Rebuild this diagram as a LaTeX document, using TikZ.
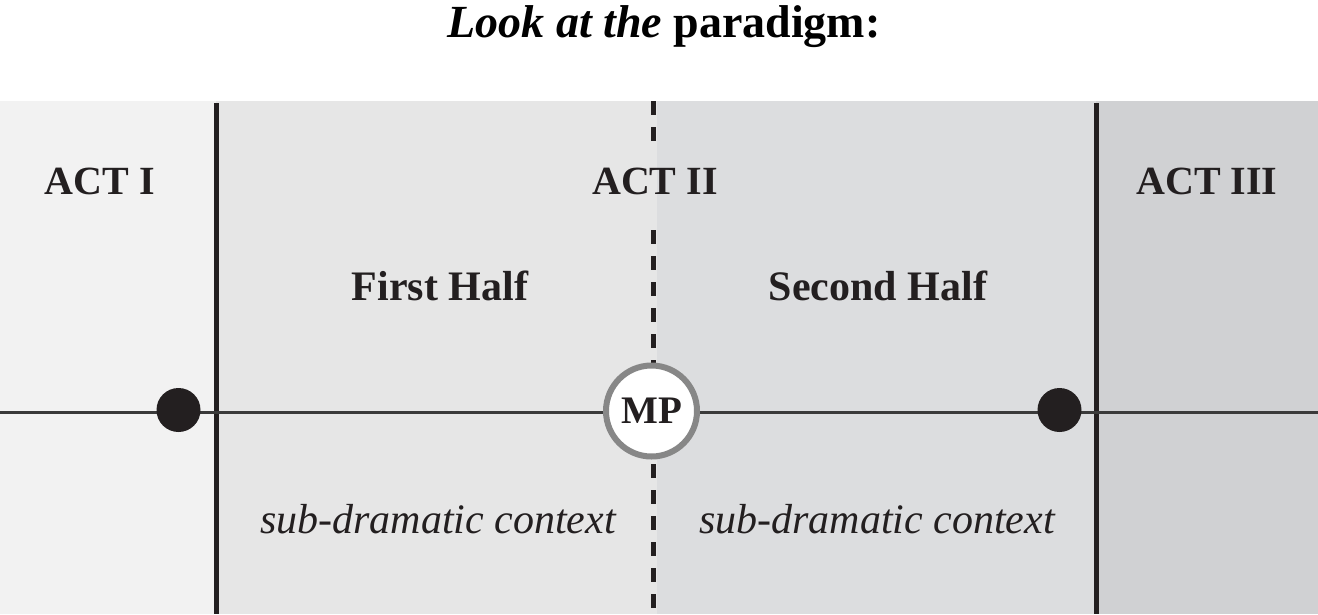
\documentclass[tikz,border=0pt]{standalone}
\usepackage{fontspec}
\setmainfont{Liberation Serif}
\usepackage{tikz}
\usetikzlibrary{positioning, calc}
\definecolor{actOne}{HTML}{F2F2F2}
\definecolor{halfOne}{HTML}{E6E6E6}
\definecolor{halfTwo}{HTML}{DCDDDF}
\definecolor{actThree}{HTML}{D0D1D3}
\definecolor{inkDark}{HTML}{231F20}
\definecolor{lineGray}{HTML}{3A3A3A}
\definecolor{ringGray}{HTML}{878787}

\begin{document}
\begin{tikzpicture}[
    x=1pt, y=-1pt,
    actlabel/.style={anchor=base, inner sep=0pt, text=inkDark,
                     font=\fontsize{40}{48}\selectfont\bfseries},
    halflabel/.style={anchor=base, inner sep=0pt, text=inkDark,
                      font=\fontsize{42}{50}\selectfont\bfseries},
    subtext/.style={anchor=base, inner sep=0pt, text=inkDark,
                    font=\fontsize{42}{50}\selectfont\itshape},
    beatdot/.style={circle, fill=inkDark, minimum size=44pt, inner sep=0pt},
    mpnode/.style={circle, draw=ringGray, line width=6pt, fill=white,
                   minimum size=91pt, inner sep=0pt, text=inkDark,
                   font=\fontsize{39}{44}\selectfont\bfseries},
    actline/.style={inkDark, line width=5pt},
    halfline/.style={inkDark, line width=5pt, dash pattern=on 14pt off 12pt},
    timeline/.style={lineGray, line width=3pt},
  ]
    \useasboundingbox (0,0) rectangle (1318,614);

    % panels
    \fill[actOne] (0,101) rectangle (216,614);
    \fill[halfOne] (216,101) rectangle (657,614);
    \fill[halfTwo] (657,101) rectangle (1096,614);
    \fill[actThree] (1096,101) rectangle (1318,614);

    % title
    \node[anchor=base, inner sep=0pt, text=black] (title) at (664,37)
         {\fontsize{46}{54}\selectfont\textbf{\textit{Look at the} paradigm:}};

    % act and half labels
    \node[actlabel] (act1) at (100,194) {ACT I};
    \node[actlabel] (act2) at (655,194) {ACT II};
    \node[actlabel] (act3) at (1207,194) {ACT III};
    \node[halflabel] (half1) at (440,300) {First Half};
    \node[halflabel] (half2) at (878,300) {Second Half};
    \node[subtext] (sub1) at (438,533) {sub-dramatic context};
    \node[subtext] (sub2) at (877,533) {sub-dramatic context};

    % dividers
    \draw[actline] (216,103) -- (216,614);
    \draw[actline] (1096,103) -- (1096,614);
    \draw[halfline] (653,101) -- (653,146);
    \draw[halfline] (653,230) -- (653,614);

    % timeline
    \coordinate (tl) at (0,412);
    \coordinate (tr) at (1318,412);
    \draw[timeline] (tl) -- (tr);

    \node[beatdot] (pp1) at (178.5,410) {};
    \node[beatdot] (pp2) at (1059.5,410) {};
    \node[mpnode] (mp) at (651.5,411) {MP};
  \end{tikzpicture}
\end{document}
